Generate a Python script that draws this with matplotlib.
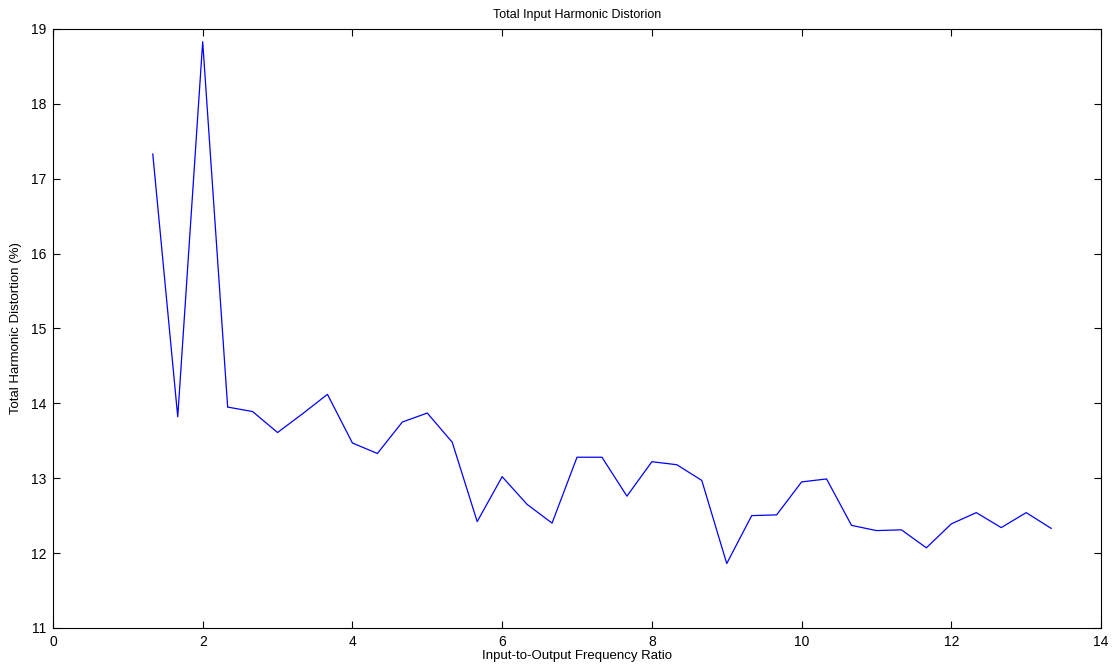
import numpy as np
import matplotlib
matplotlib.use('Agg')
import matplotlib.pyplot as plt

# ratio steps of 1/3
ratio = [4/3, 5/3, 2, 7/3, 8/3, 3, 10/3, 11/3, 4, 13/3, 14/3, 5, 16/3, 17/3, 6,
         19/3, 20/3, 7, 22/3, 23/3, 8, 25/3, 26/3, 9, 28/3, 29/3, 10, 31/3,
         32/3, 11, 34/3, 35/3, 12, 37/3, 38/3, 13, 40/3]
thd = [17.33, 13.82, 18.83, 13.95, 13.89, 13.61, 13.86, 14.12, 13.47, 13.33,
       13.75, 13.87, 13.48, 12.42, 13.02, 12.65, 12.40, 13.28, 13.28, 12.76,
       13.22, 13.18, 12.97, 11.86, 12.50, 12.51, 12.95, 12.99, 12.37, 12.30,
       12.31, 12.07, 12.39, 12.54, 12.34, 12.54, 12.33]

plt.rcParams['font.family'] = ['Liberation Sans', 'DejaVu Sans']

fig = plt.figure(figsize=(11.15, 6.68), dpi=100)
ax = fig.add_axes([0.0475, 0.06, 0.94, 0.8966])
ax.plot(ratio, thd, color='#0000ff', linewidth=0.9)

ax.set_xlim(0, 14)
ax.set_ylim(11, 19)
ax.set_xticks(np.arange(0, 15, 2))
ax.set_yticks(np.arange(11, 20, 1))
ax.tick_params(direction='in', top=True, right=True, labelsize=10, length=5, pad=5)
for s in ax.spines.values():
    s.set_linewidth(0.8)

ax.set_title('Total Input Harmonic Distorion', fontsize=9, pad=8)
ax.set_xlabel('Input-to-Output Frequency Ratio', fontsize=9.5, labelpad=1)
ax.set_ylabel('Total Harmonic Distortion (%)', fontsize=9.5, labelpad=6)

fig.savefig('out.png', dpi=100)
